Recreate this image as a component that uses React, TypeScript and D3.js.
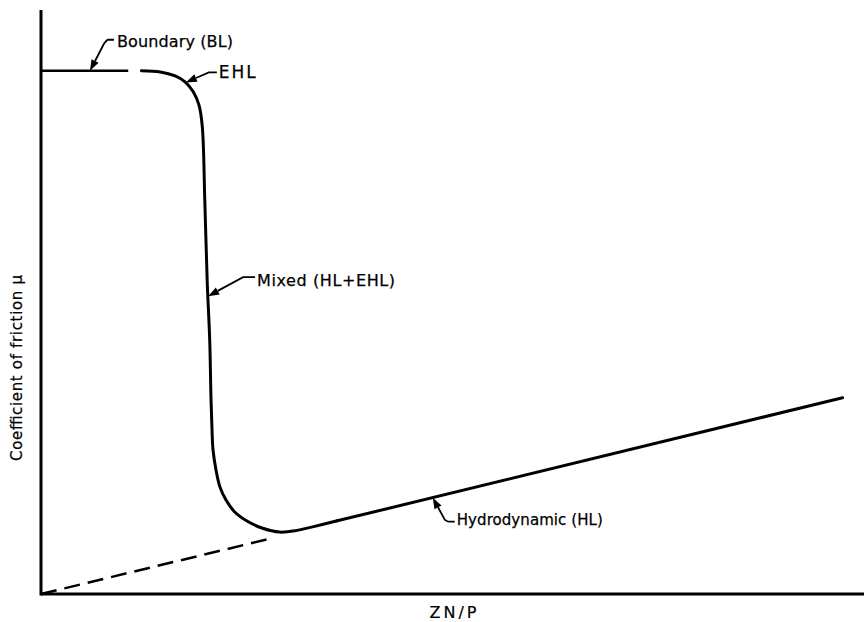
import * as d3 from "d3";

// Stribeck-type curve (arbitrary units 0-100 on both axes)
const boundaryX = [0, 10.6];
const boundaryY = [89.6, 89.6];

const transitionX = [12.2, 14.5, 16.3, 17.5, 18.5, 19.2, 19.6, 19.9, 20.2, 20.5, 20.66, 20.78, 20.9, 21.27, 21.75, 22.48, 23.57, 25.03, 26.85, 29.0, 31.0, 33, 36];
const transitionY = [89.6, 89.4, 88.7, 87.7, 86.0, 83.7, 80.0, 67.5, 53.3, 43.5, 33.2, 28.1, 24.7, 21.2, 18.3, 16.1, 14.0, 12.5, 11.3, 10.6, 10.85, 11.5, 12.53];

const hydroX = [36, 97.4];
const hydroY = [12.53, 33.6];

const extrapX = [0, 28.2];
const extrapY = [0, 9.6];

const xLabel = "ZN/P";
const yLabel = "Coefficient of friction \u03bc";

// labels with leader arrows; tip in data units, rest are pixel offsets from the tip
const notes = [
  {label: "Boundary (BL)", tip: [5.95, 89.6], elbow: [14, -27], stub: [24, -31], text: [27, -24], len: 116, size: 16},
  {label: "EHL", tip: [17.6, 87.6], elbow: [23, -10], stub: [31, -10], text: [33, -4], len: 37, size: 17},
  {label: "Mixed (HL+EHL)", tip: [20.3, 51], elbow: [35, -19], stub: [47, -19], text: [49, -10], len: 138, size: 16},
  {label: "Hydrodynamic (HL)", tip: [47.6, 16.5], elbow: [12, 22], stub: [22, 24], text: [24, 27], len: 146, size: 15},
];

const W = 864;
const H = 622;
const font = "'DejaVu Sans', 'Liberation Sans', sans-serif";

export default function App() {
  const x = d3.scaleLinear().domain([0, 100]).range([41, 864]);
  const y = d3.scaleLinear().domain([0, 100]).range([594, 10]);

  const zip = (xs: number[], ys: number[]) => xs.map((v, i) => [v, ys[i]] as [number, number]);

  const straight = d3.line<[number, number]>().x(d => x(d[0])).y(d => y(d[1]));
  const smooth = d3.line<[number, number]>()
    .x(d => x(d[0]))
    .y(d => y(d[1]))
    .curve(d3.curveCatmullRom.alpha(0.5));

  return (
    <svg width={W} height={H} style={{position: "absolute", left: 0, top: 0, background: "#fff"}}>
      {/* axes */}
      <line x1={x(0)} x2={x(0)} y1={y(0) + 1.5} y2={y(100)} stroke="#000" strokeWidth={3} />
      <line x1={x(0)} x2={x(100)} y1={y(0)} y2={y(0)} stroke="#000" strokeWidth={3} />

      {/* curve */}
      <path d={straight(zip(boundaryX, boundaryY)) || ""} fill="none" stroke="#000" strokeWidth={2.5} />
      <path d={smooth(zip(transitionX, transitionY)) || ""} fill="none" stroke="#000" strokeWidth={3} strokeLinecap="round" />
      <path d={straight(zip(hydroX, hydroY)) || ""} fill="none" stroke="#000" strokeWidth={3} strokeLinecap="round" />
      <path d={straight(zip(extrapX, extrapY)) || ""} fill="none" stroke="#000" strokeWidth={2.5} strokeDasharray="16,8" />

      {/* annotations */}
      {notes.map(n => {
        const tx = x(n.tip[0]);
        const ty = y(n.tip[1]);
        const ex = tx + n.elbow[0];
        const ey = ty + n.elbow[1];
        const sx = tx + n.stub[0];
        const sy = ty + n.stub[1];
        const ang = Math.atan2(ty - ey, tx - ex);
        const aL = 11, aW = 4;
        const bx = tx - aL * Math.cos(ang), by = ty - aL * Math.sin(ang);
        const px = -Math.sin(ang) * aW, py = Math.cos(ang) * aW;
        const mx = (ex + sx) / 2 - (sx - ex) * 0.1;
        return (
          <g key={n.label}>
            <path
              d={`M${bx},${by} L${ex},${ey} Q${ex + (sx - ex) * 0.3},${sy} ${mx},${sy} L${sx},${sy}`}
              fill="none" stroke="#000" strokeWidth={1.8}
            />
            <path
              d={`M${tx},${ty} L${bx + px},${by + py} L${bx - px},${by - py} Z`}
              fill="#000"
            />
            <text
              x={tx + n.text[0]} y={ty + n.text[1]}
              fontFamily={font} fontSize={n.size} fill="#000"
              stroke="#000" strokeWidth={0.25}
              textLength={n.len} lengthAdjust="spacing"
            >{n.label}</text>
          </g>
        );
      })}

      {/* axis titles */}
      <text x={453} y={618} textAnchor="middle" fontFamily={font} fontSize={16}
        stroke="#000" strokeWidth={0.2}
        textLength={47} lengthAdjust="spacing">{xLabel}</text>
      <text transform="translate(22,368) rotate(-90)" textAnchor="middle" fontFamily={font} fontSize={15}
        stroke="#000" strokeWidth={0.2}
        textLength={186} lengthAdjust="spacing">{yLabel}</text>
    </svg>
  );
}
